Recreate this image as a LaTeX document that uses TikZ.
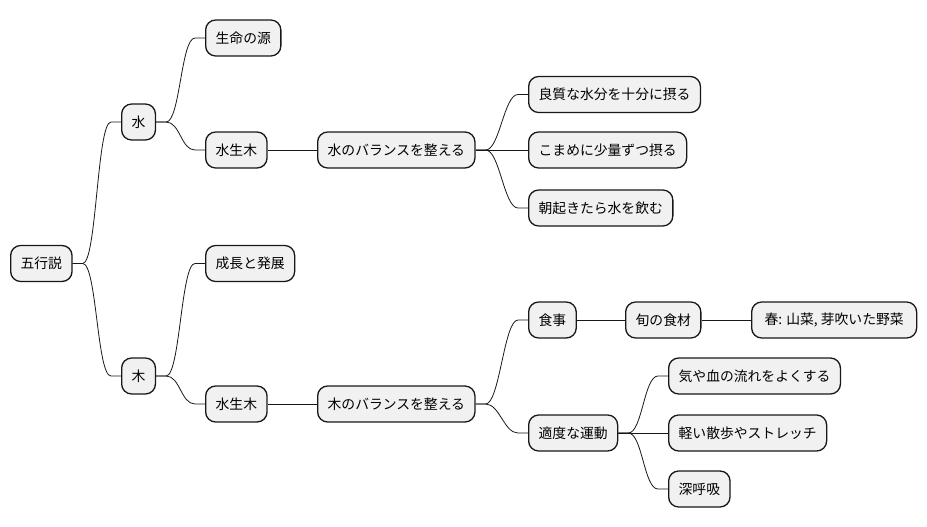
\documentclass[tikz,border=0pt]{standalone}
\usepackage{fontspec}
\setmainfont{Noto Sans CJK JP}
\definecolor{boxfill}{HTML}{F1F1F1}
\definecolor{boxline}{HTML}{181818}

\begin{document}
\begin{tikzpicture}[
    x=1pt, y=-1pt,
    topic/.style={rectangle, draw=boxline, fill=boxfill, line width=1.3pt, rounded corners=10pt, minimum height=36pt, inner xsep=10pt, anchor=west, font=\fontsize{13.8pt}{16pt}\selectfont},
    link/.style={line width=0.8pt, draw=boxline},
    branch/.style={link, to path={(\tikztostart) -- ++(10pt,0) .. controls +(14pt,0) and ([xshift=-24pt]\tikztotarget) .. ([xshift=-10pt]\tikztotarget) -- (\tikztotarget)}}
]
    \useasboundingbox (0,0) rectangle (927,527);

    \node[topic] (gogyo) at (10,263.5) {五行説};

    % water side
    \node[topic] (water) at (121,122) {水};
    \node[topic] (life) at (205,38) {生命の源};
    \node[topic] (wsw1) at (205,150) {水生木};
    \node[topic] (wbal) at (317,150) {水のバランスを整える};
    \node[topic] (goodwater) at (528,94.5) {良質な水分を十分に摂る};
    \node[topic] (sips) at (528,150) {こまめに少量ずつ摂る};
    \node[topic] (morning) at (528,208) {朝起きたら水を飲む};

    % wood side
    \node[topic] (wood) at (121,376) {木};
    \node[topic] (growth) at (205,263.5) {成長と発展};
    \node[topic] (wsw2) at (205,404) {水生木};
    \node[topic] (kbal) at (317,404) {木のバランスを整える};
    \node[topic] (meal) at (528,320) {食事};
    \node[topic] (season) at (625,320) {旬の食材};
    \node[topic, minimum width=165pt] (spring) at (751,320) {春: 山菜, 芽吹いた野菜};
    \node[topic] (exercise) at (528,433) {適度な運動};
    \node[topic] (flow) at (668,376) {気や血の流れをよくする};
    \node[topic] (walk) at (668,433) {軽い散歩やストレッチ};
    \node[topic] (breath) at (668,489) {深呼吸};

    \draw[branch] (gogyo.east) to (water.west);
    \draw[branch] (gogyo.east) to (wood.west);
    \draw[branch] (water.east) to (life.west);
    \draw[branch] (water.east) to (wsw1.west);
    \draw[link] (wsw1) -- (wbal);
    \draw[branch] (wbal.east) to (goodwater.west);
    \draw[link] (wbal) -- (sips);
    \draw[branch] (wbal.east) to (morning.west);
    \draw[branch] (wood.east) to (growth.west);
    \draw[branch] (wood.east) to (wsw2.west);
    \draw[link] (wsw2) -- (kbal);
    \draw[branch] (kbal.east) to (meal.west);
    \draw[branch] (kbal.east) to (exercise.west);
    \draw[link] (meal) -- (season);
    \draw[link] (season) -- (spring);
    \draw[branch] (exercise.east) to (flow.west);
    \draw[link] (exercise) -- (walk);
    \draw[branch] (exercise.east) to (breath.west);
\end{tikzpicture}
\end{document}
